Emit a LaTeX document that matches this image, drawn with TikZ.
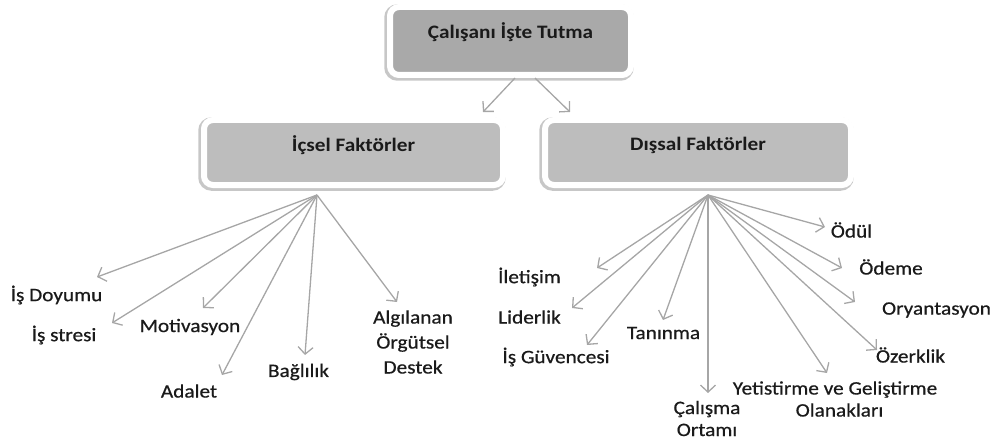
\documentclass[tikz,border=0pt]{standalone}
\usepackage{fontspec}
\setmainfont{Carlito}[FakeStretch=1.12]
\newfontfamily\lblfont{Carlito}[FakeStretch=1.12, FakeBold=0.6]
\usetikzlibrary{arrows.meta}
\definecolor{topgray}{HTML}{A9A9A9}
\definecolor{sidegray}{HTML}{BDBDBD}
\definecolor{linegray}{HTML}{A6A6A6}
\definecolor{txt}{HTML}{1A1A1A}
\tikzset{
  boxbase/.style={rounded corners=9pt, draw=white, line width=6pt, inner sep=0pt,
    text=txt, font=\fontsize{19}{23}\selectfont\bfseries,
    preaction={draw=black!22, line width=8.5pt, transform canvas={xshift=-1.5pt, yshift=-1.5pt}}},
  topbox/.style={boxbase, fill=topgray, minimum width=241pt, minimum height=68pt, text depth=20pt},
  sidebox/.style={boxbase, fill=sidegray, text depth=18pt, minimum height=65pt},
  lbl/.style={text=txt, font=\lblfont\fontsize{19}{25}\selectfont, align=center, inner sep=0pt},
  conn/.style={draw=linegray, line width=1.3pt, -{Straight Barb[length=7pt,width=15pt,line width=1.3pt]}}
}
\begin{document}
\begin{tikzpicture}[x=1pt, y=-1pt]
\useasboundingbox (0,0) rectangle (998,441);
% boxes
\node[topbox] (top) at (510.5,41) {Çalışanı İşte Tutma};
\node[sidebox, minimum width=299pt] (ic) at (353.5,152.5) {İçsel Faktörler};
\node[sidebox, minimum width=306pt] (dis) at (698,152.5) {Dışsal Faktörler};
% top arrows
\coordinate (t1) at (515,78);
\coordinate (t2) at (535,78);
\coordinate (a1) at (483,112);
\coordinate (a2) at (570,112);
\draw[conn] (t1) -- (a1);
\draw[conn] (t2) -- (a2);
% fan origins
\coordinate (fl) at (317,195);
\coordinate (fr) at (708,195);
% left labels
\node[lbl] (doy) at (56.5,295) {İş Doyumu};
\node[lbl] (str) at (64,335) {İş stresi};
\node[lbl] (mot) at (190,327) {Motivasyon};
\node[lbl] (ada) at (189,391) {Adalet};
\node[lbl] (bag) at (298.5,372) {Bağlılık};
\node[lbl] (alg) at (413,342) {Algılanan\\Örgütsel\\Destek};
% left tips
\coordinate (ldoy) at (97,277);
\coordinate (lstr) at (112,323);
\coordinate (lmot) at (203,308);
\coordinate (lada) at (222,375);
\coordinate (lbag) at (305,355);
\coordinate (lalg) at (397,302);
\foreach \c in {ldoy,lstr,lmot,lada,lbag,lalg} \draw[conn] (fl) -- (\c);
% right labels
\node[lbl] (odul) at (851.5,230) {Ödül};
\node[lbl] (odeme) at (891,267) {Ödeme};
\node[lbl] (orya) at (936.5,310) {Oryantasyon};
\node[lbl] (ozer) at (910.5,355) {Özerklik};
\node[lbl, font=\lblfont\fontsize{19}{22}\selectfont] (yet) at (835,399) {Yetistirme ve Geliştirme\\\hspace*{9pt}Olanakları};
\node[lbl, font=\lblfont\fontsize{19}{22}\selectfont] (cal) at (707,418.5) {Çalışma\\Ortamı};
\node[lbl] (tan) at (663.5,333) {Tanınma};
\node[lbl] (guv) at (556,357) {İş Güvencesi};
\node[lbl] (lid) at (529.5,317) {Liderlik};
\node[lbl] (ilet) at (529.5,277) {İletişim};
% right tips
\coordinate (rodul) at (825,227);
\coordinate (rodeme) at (842,268);
\coordinate (rorya) at (855,302);
\coordinate (rozer) at (877,350);
\coordinate (ryet) at (827,373);
\coordinate (rcal) at (708,393);
\coordinate (rtan) at (663,320);
\coordinate (rguv) at (587,345);
\coordinate (rlid) at (572,308);
\coordinate (rilet) at (597,268);
\foreach \c in {rodul,rodeme,rorya,rozer,ryet,rcal,rtan,rguv,rlid,rilet} \draw[conn] (fr) -- (\c);
\end{tikzpicture}
\end{document}
